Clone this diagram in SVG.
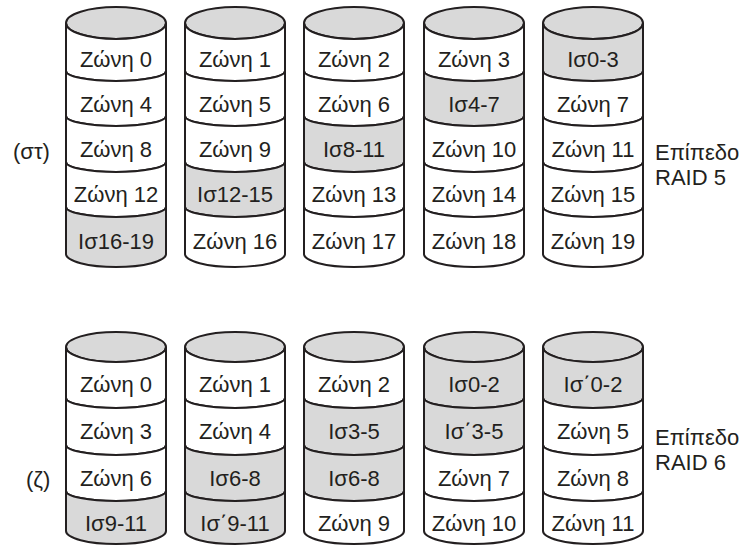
<svg xmlns="http://www.w3.org/2000/svg" xmlns:xlink="http://www.w3.org/1999/xlink" width="742" height="545" viewBox="0 0 742 545">
<style>
.s{stroke:#231f20;stroke-width:2;fill:#ffffff}
.g{fill:#d9d9d9}
.w{fill:#ffffff}
text{font-family:"Liberation Sans",Arial,sans-serif;font-size:22px;fill:#231f20}
.c{text-anchor:middle}
.lbl{font-size:22px}
</style>
<defs>
<ellipse id="tt" cx="50" cy="23" rx="50" ry="16"/>
<path id="t0" d="M0,23 A50,16 0 0 0 100,23 L100,71 A50,10 0 0 1 0,71 Z"/>
<path id="t1" d="M0,71 A50,10 0 0 0 100,71 L100,116 A50,10 0 0 1 0,116 Z"/>
<path id="t2" d="M0,116 A50,10 0 0 0 100,116 L100,162 A50,10 0 0 1 0,162 Z"/>
<path id="t3" d="M0,162 A50,10 0 0 0 100,162 L100,207 A50,10 0 0 1 0,207 Z"/>
<path id="t4" d="M0,207 A50,10 0 0 0 100,207 L100,254 A50,13 0 0 1 0,254 Z"/>
<ellipse id="bt" cx="50" cy="347" rx="50" ry="15"/>
<path id="b0" d="M0,347 A50,15 0 0 0 100,347 L100,398 A50,10 0 0 1 0,398 Z"/>
<path id="b1" d="M0,398 A50,10 0 0 0 100,398 L100,445 A50,10 0 0 1 0,445 Z"/>
<path id="b2" d="M0,445 A50,10 0 0 0 100,445 L100,491 A50,10 0 0 1 0,491 Z"/>
<path id="b3" d="M0,491 A50,10 0 0 0 100,491 L100,531 A50,13 0 0 1 0,531 Z"/>
</defs>

<g id="raid5">
<g id="r5d1" class="s">
<use href="#tt" x="66" class="g"/>
<use href="#t0" x="66" class="w"/><use href="#t1" x="66" class="w"/><use href="#t2" x="66" class="w"/><use href="#t3" x="66" class="w"/><use href="#t4" x="66" class="g"/>
</g>
<g id="r5d1t"><text class="c" x="116" y="67">Ζώνη 0</text><text class="c" x="116" y="112">Ζώνη 4</text><text class="c" x="116" y="157">Ζώνη 8</text><text class="c" x="116" y="202">Ζώνη 12</text><text class="c" x="116" y="249">Ισ16-19</text></g>

<g id="r5d2" class="s">
<use href="#tt" x="185" class="g"/>
<use href="#t0" x="185" class="w"/><use href="#t1" x="185" class="w"/><use href="#t2" x="185" class="w"/><use href="#t3" x="185" class="g"/><use href="#t4" x="185" class="w"/>
</g>
<g id="r5d2t"><text class="c" x="235" y="67">Ζώνη 1</text><text class="c" x="235" y="112">Ζώνη 5</text><text class="c" x="235" y="157">Ζώνη 9</text><text class="c" x="235" y="202">Ισ12-15</text><text class="c" x="235" y="249">Ζώνη 16</text></g>

<g id="r5d3" class="s">
<use href="#tt" x="304" class="g"/>
<use href="#t0" x="304" class="w"/><use href="#t1" x="304" class="w"/><use href="#t2" x="304" class="g"/><use href="#t3" x="304" class="w"/><use href="#t4" x="304" class="w"/>
</g>
<g id="r5d3t"><text class="c" x="354" y="67">Ζώνη 2</text><text class="c" x="354" y="112">Ζώνη 6</text><text class="c" x="354" y="157">Ισ8-11</text><text class="c" x="354" y="202">Ζώνη 13</text><text class="c" x="354" y="249">Ζώνη 17</text></g>

<g id="r5d4" class="s">
<use href="#tt" x="424" class="g"/>
<use href="#t0" x="424" class="w"/><use href="#t1" x="424" class="g"/><use href="#t2" x="424" class="w"/><use href="#t3" x="424" class="w"/><use href="#t4" x="424" class="w"/>
</g>
<g id="r5d4t"><text class="c" x="474" y="67">Ζώνη 3</text><text class="c" x="474" y="112">Ισ4-7</text><text class="c" x="474" y="157">Ζώνη 10</text><text class="c" x="474" y="202">Ζώνη 14</text><text class="c" x="474" y="249">Ζώνη 18</text></g>

<g id="r5d5" class="s">
<use href="#tt" x="543" class="g"/>
<use href="#t0" x="543" class="g"/><use href="#t1" x="543" class="w"/><use href="#t2" x="543" class="w"/><use href="#t3" x="543" class="w"/><use href="#t4" x="543" class="w"/>
</g>
<g id="r5d5t"><text class="c" x="593" y="67">Ισ0-3</text><text class="c" x="593" y="112">Ζώνη 7</text><text class="c" x="593" y="157">Ζώνη 11</text><text class="c" x="593" y="202">Ζώνη 15</text><text class="c" x="593" y="249">Ζώνη 19</text></g>

<text id="lbl-st" x="13" y="159">(στ)</text>
<g id="lbl-r5"><text class="lbl" x="655" y="160">Επίπεδο</text><text class="lbl" x="655" y="185">RAID 5</text></g>
</g>

<g id="raid6">
<g id="r6d1" class="s">
<use href="#bt" x="66" class="g"/>
<use href="#b0" x="66" class="w"/><use href="#b1" x="66" class="w"/><use href="#b2" x="66" class="w"/><use href="#b3" x="66" class="g"/>
</g>
<g id="r6d1t"><text class="c" x="116" y="392">Ζώνη 0</text><text class="c" x="116" y="439">Ζώνη 3</text><text class="c" x="116" y="486">Ζώνη 6</text><text class="c" x="116" y="531">Ισ9-11</text></g>

<g id="r6d2" class="s">
<use href="#bt" x="185" class="g"/>
<use href="#b0" x="185" class="w"/><use href="#b1" x="185" class="w"/><use href="#b2" x="185" class="g"/><use href="#b3" x="185" class="g"/>
</g>
<g id="r6d2t"><text class="c" x="235" y="392">Ζώνη 1</text><text class="c" x="235" y="439">Ζώνη 4</text><text class="c" x="235" y="486">Ισ6-8</text><text class="c" x="235" y="531">Ισ΄9-11</text></g>

<g id="r6d3" class="s">
<use href="#bt" x="304" class="g"/>
<use href="#b0" x="304" class="w"/><use href="#b1" x="304" class="g"/><use href="#b2" x="304" class="g"/><use href="#b3" x="304" class="w"/>
</g>
<g id="r6d3t"><text class="c" x="354" y="392">Ζώνη 2</text><text class="c" x="354" y="439">Ισ3-5</text><text class="c" x="354" y="486">Ισ6-8</text><text class="c" x="354" y="531">Ζώνη 9</text></g>

<g id="r6d4" class="s">
<use href="#bt" x="424" class="g"/>
<use href="#b0" x="424" class="g"/><use href="#b1" x="424" class="g"/><use href="#b2" x="424" class="w"/><use href="#b3" x="424" class="w"/>
</g>
<g id="r6d4t"><text class="c" x="474" y="392">Ισ0-2</text><text class="c" x="474" y="439">Ισ΄3-5</text><text class="c" x="474" y="486">Ζώνη 7</text><text class="c" x="474" y="531">Ζώνη 10</text></g>

<g id="r6d5" class="s">
<use href="#bt" x="543" class="g"/>
<use href="#b0" x="543" class="g"/><use href="#b1" x="543" class="w"/><use href="#b2" x="543" class="w"/><use href="#b3" x="543" class="w"/>
</g>
<g id="r6d5t"><text class="c" x="593" y="392">Ισ΄0-2</text><text class="c" x="593" y="439">Ζώνη 5</text><text class="c" x="593" y="486">Ζώνη 8</text><text class="c" x="593" y="531">Ζώνη 11</text></g>

<text id="lbl-z" x="26" y="487">(ζ)</text>
<g id="lbl-r6"><text class="lbl" x="655" y="445">Επίπεδο</text><text class="lbl" x="655" y="470">RAID 6</text></g>
</g>
</svg>
